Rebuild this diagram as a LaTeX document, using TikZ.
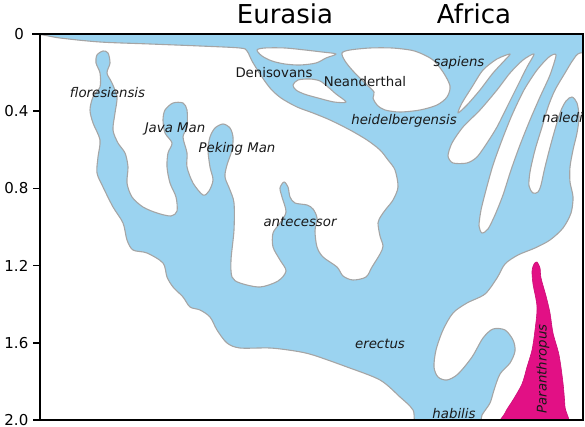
\documentclass[tikz,border=0pt]{standalone}
\usepackage{fontspec}
\setmainfont{DejaVu Sans}
\definecolor{blobblue}{RGB}{155,211,240}
\definecolor{blobedge}{RGB}{165,165,165}
\definecolor{parapink}{RGB}{226,16,133}
\begin{document}
\begin{tikzpicture}[x=1pt,y=-1pt,
  blob/.style={fill=blobblue, draw=blobedge, line width=1.1pt, line join=round},
  hole/.style={fill=white, draw=blobedge, line width=1.1pt, line join=round},
  para/.style={fill=parapink, draw=parapink!90!black, line width=0.6pt},
  lab/.style={font=\fontsize{13.3}{15}\selectfont\itshape, anchor=base, inner sep=0pt, text=black!90},
  labup/.style={font=\fontsize{13.3}{15}\selectfont, anchor=base, inner sep=0pt, text=black!90},
  region/.style={font=\fontsize{26}{30}\selectfont, anchor=base, inner sep=0pt},
  ticklab/.style={font=\fontsize{15}{18}\selectfont, anchor=east, inner sep=0pt},
  frame/.style={draw=black, line width=1.6pt}]
\useasboundingbox (0,0) rectangle (585,427);

\begin{scope}
\clip (40,34) rectangle (583,420);
% main blue region
\path[blob] plot[smooth cycle, tension=0.5] coordinates {
(25,34) (25,20) (600,20) (600,52)
(580,53) (573,60) (565,73) (555,90) (548,107) (542,127) (535,150) (530,172) (529,186) (533,193) (538,192) (541,185) (545,167) (552,140) (560,113) (566,101) (572,97) (577,103) (579,117) (577,133) (573,150) (570,167) (570,182) (573,197) (571,213) (563,228) (550,240) (535,248) (518,255) (505,264) (497,278) (485,294) (467,303) (453,313) (443,330) (436,350) (434,367) (438,377) (447,380) (458,374) (472,357) (483,338) (493,329) (505,330) (513,340) (515,351) (510,363) (500,374) (494,390) (490,403) (482,415) (475,430)
(420,430) (413,410) (400,397) (380,380) (347,367) (313,355) (295,351) (270,348) (240,348) (227,343) (217,330) (210,317) (200,310) (190,307) (183,297) (173,287) (167,277) (163,263) (147,253) (133,250) (127,240) (123,223) (113,207) (103,187) (97,173) (98,157) (100,140) (93,123) (90,110) (93,97) (100,87) (100,73) (96,63) (97,55) (103,51) (108,53) (110,63) (107,73) (112,83) (117,97) (115,113) (113,130) (118,143) (125,153) (128,167) (127,183) (132,197) (143,207) (157,213) (171,216) (177,211) (176,197) (170,183) (167,167) (168,153) (172,143) (165,133) (163,120) (165,110) (173,103) (183,103) (187,110) (187,127) (183,137) (187,153) (187,167) (193,183) (203,195) (209,191) (213,180) (210,167) (208,150) (210,137) (215,128) (223,124) (230,128) (233,137) (232,150) (227,165) (225,177) (230,190) (234,203) (234,230) (231,260) (232,277) (240,283) (260,287) (278,281) (286,271) (280,260) (273,247) (273,233) (280,223) (286,212) (282,197) (280,188) (284,182) (288,187) (290,197) (295,203) (307,205) (313,209) (317,218) (315,231) (317,247) (323,257) (337,267) (343,276) (353,280) (366,277) (372,267) (380,254) (383,246) (380,236) (378,223) (381,216) (386,209) (393,200) (398,187) (395,170) (388,160) (380,150) (367,140) (350,130) (330,120) (313,113) (297,107) (281,98) (270,88) (260,74) (252,61) (247,51) (240,48) (200,46) (150,44) (100,42) (60,38) (40,34.5)};
% white holes
\path[hole] plot[smooth cycle, tension=0.5] coordinates {
(342,53) (350,50) (370,48) (392,48) (410,50) (420,53) (433,60) (443,72) (450,86) (447,97) (437,105) (420,110) (400,112) (385,110) (377,105) (373,98) (374,92) (365,83) (353,71) (345,61)};
\path[hole] plot[smooth cycle, tension=0.5] coordinates {
(257,50) (265,48) (285,48) (305,50) (322,52) (336,54) (326,58) (316,63) (300,65) (285,64) (272,61) (262,56)};
\path[hole] plot[smooth cycle, tension=0.5] coordinates {
(293,85) (298,80) (310,79) (320,81) (328,87) (336,94) (346,102) (334,102) (318,98) (304,94) (296,90)};
\path[hole] plot[smooth cycle, tension=0.45] coordinates {
(510,54) (505,60) (493,73) (480,90) (467,105) (458,113) (462,103) (472,87) (483,70) (497,59)};
\path[hole] plot[smooth cycle, tension=0.45] coordinates {
(534,54) (527,67) (517,87) (507,107) (497,127) (487,143) (477,157) (467,163) (453,163) (448,156) (452,143) (463,127) (480,110) (497,90) (510,73) (523,60)};
\path[hole] plot[smooth cycle, tension=0.45] coordinates {
(556,55) (550,75) (540,97) (530,120) (520,145) (511,170) (503,195) (495,215) (488,229) (482,233) (479,226) (481,210) (486,190) (493,165) (502,140) (512,115) (524,90) (537,70) (549,57)};
% Paranthropus
\path[para] plot[smooth cycle, tension=0.5] coordinates {
(537,262) (540,268) (541,278) (546,296) (550,313) (553,333) (559,355) (563,383) (565,407) (566,430) (500,430) (505,413) (513,400) (522,384) (527,367) (532,350) (535,330) (537,307) (533,284) (532,271) (534,264)};
\end{scope}

% frame and axis
\draw[frame] (40,34) rectangle (583,420);
\draw[frame] (32,34) -- (40,34);
\draw[frame] (33,111.2) -- (40,111.2);
\draw[frame] (33,188.4) -- (40,188.4);
\draw[frame] (33,265.6) -- (40,265.6);
\draw[frame] (33,342.8) -- (40,342.8);
\draw[frame] (33,420) -- (40,420);
\node[ticklab] (t0) at (24,34) {0};
\node[ticklab] (t1) at (28.5,111.2) {0.4};
\node[ticklab] (t2) at (28.5,188.4) {0.8};
\node[ticklab] (t3) at (28.5,265.6) {1.2};
\node[ticklab] (t4) at (28.5,342.8) {1.6};
\node[ticklab] (t5) at (28.5,420) {2.0};

% region titles
\node[region] (eurasia) at (285,23.5) {Eurasia};
\node[region] (africa) at (474,23.5) {Africa};

% labels
\node[lab] (flo) at (107.5,97.5) {floresiensis};
\node[lab] (java) at (175,133) {Java Man};
\node[lab] (peking) at (237,152.5) {Peking Man};
\node[labup] (deni) at (274,78) {Denisovans};
\node[labup] (nean) at (365,87) {Neanderthal};
\node[lab] (sap) at (459,66.5) {sapiens};
\node[lab] (heid) at (404,125) {heidelbergensis};
\node[lab, anchor=base west] (naledi) at (542,123) {naledi};
\node[lab] (ante) at (300,226.5) {antecessor};
\node[lab] (erect) at (380,348) {erectus};
\node[lab] (habilis) at (454,418) {habilis};
\node[lab, anchor=center, rotate=90] (paran) at (543,369) {Paranthropus};
\end{tikzpicture}
\end{document}
